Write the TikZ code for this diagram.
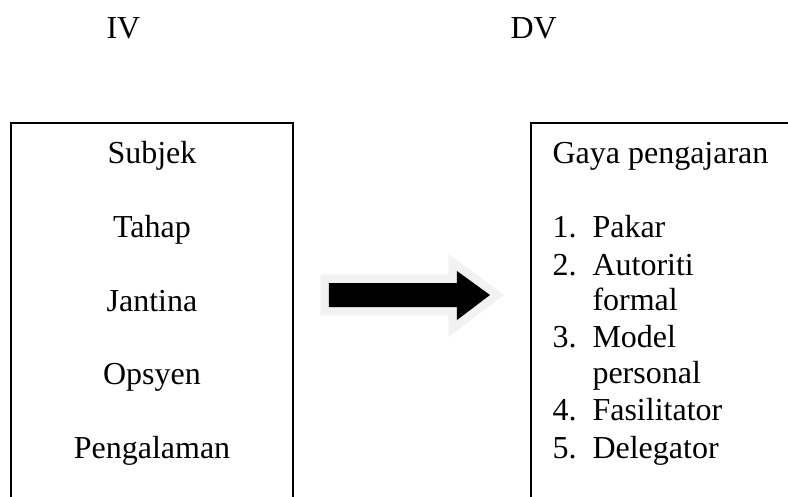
\documentclass[tikz,border=0pt]{standalone}
\usepackage{fontspec}
\setmainfont{Liberation Serif}
\usepackage{xcolor}
\usetikzlibrary{positioning}
\definecolor{arrowhalo}{HTML}{F2F2F2}
\tikzset{%
	headtext/.style = {inner sep=0pt, anchor=base west},
	ivtext/.style   = {inner sep=0pt, anchor=base},
	dvtext/.style   = {inner sep=0pt, anchor=base west},
	frame/.style    = {line width=0.75pt},
	bigarrow/.style = {fill=black, preaction={draw=arrowhalo, line width=6.4pt, line join=miter}},
}
\begin{document}
\begin{tikzpicture}[x=0.375pt,y=-0.375pt,font=\fontsize{12}{13.8}\selectfont]
	\useasboundingbox (0,0) rectangle (788,497);
	\node[headtext] (iv) at (106,38) {IV};
	\node[headtext] (dv) at (510,38) {DV};
	\draw[frame] (11,497) -- (11,123) -- (293,123) -- (293,497);  % IV box
	\draw[frame] (531,497) -- (531,123) -- (788,123);  % DV box
	\foreach \name/\y [count=\i] in {Subjek/163,Tahap/237,Jantina/311,Opsyen/384,Pengalaman/458}
		\node[ivtext] (var\i) at (152,\y) {\name};
	\node[dvtext] (style) at (552,163) {Gaya pengajaran};
	\foreach \num/\y in {1/237,2/275,3/347,4/420,5/458}
		\node[dvtext] (num\num) at (552,\y) {\num.};
	\foreach \name/\y [count=\i] in {Pakar/237,Autoriti/275,formal/310,Model/347,personal/383,Fasilitator/420,Delegator/458}
		\node[dvtext] (item\i) at (592,\y) {\name};
	\fill[bigarrow] (329,283) -- (457,283) -- (457,271) -- (490,295) -- (457,320) -- (457,307) -- (329,307) -- cycle;  % block arrow
\end{tikzpicture}
\end{document}
